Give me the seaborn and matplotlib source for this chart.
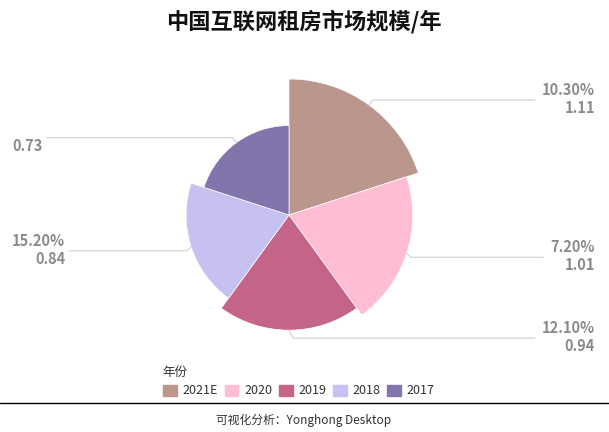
import numpy as np
import matplotlib
matplotlib.use("Agg")
import matplotlib.pyplot as plt
import seaborn as sns

years = ["2021E", "2020", "2019", "2018", "2017"]
values = [1.11, 1.01, 0.94, 0.84, 0.73]
pcts = ["10.30%", "7.20%", "12.10%", "15.20%", ""]
colors = ["#BA968C", "#FFBDD3", "#C36488", "#C6C1F0", "#8275AC"]

sns.set_theme(style="white")
plt.rcParams["font.family"] = ["Noto Sans CJK SC", "DejaVu Sans"]

W, H = 609, 432
fig = plt.figure(figsize=(W / 100, H / 100), dpi=100)

cx, cy = 289, 215
R = 140
rmax = max(values) * R / 136
ax = fig.add_axes([(cx - R) / W, (H - cy - R) / H, 2 * R / W, 2 * R / H], projection="polar")
ax.set_theta_zero_location("N")
ax.set_theta_direction(-1)
n = len(values)
width = 2 * np.pi / n
thetas = np.arange(n) * width
ax.bar(thetas, values, width=width, align="edge", color=colors, edgecolor="white", linewidth=0.5)
ax.set_ylim(0, rmax)
ax.set_axis_off()

fig.canvas.draw()
renderer = fig.canvas.get_renderer()
lab_color = "#8A8A8A"
fs = 10.5


def fx(x):
    return x / W


def fy(y):
    return 1 - y / H


for i, (y_, v, p) in enumerate(zip(years, values, pcts)):
    mid = thetas[i] + width / 2
    disp = ax.transData.transform((mid, v))
    px, py = disp[0], H - disp[1]
    s, c = np.sin(mid), np.cos(mid)
    if abs(s) < 1e-6:
        ly = py + 8
    else:
        ly = py - 5 if c > 0 else py + 4
    right = s > -1e-6
    vt = f"{v:.2f}"
    lines = [t for t in (p, vt) if t]
    tmp = [fig.text(0, 0, t, fontsize=fs, fontweight="bold") for t in lines]
    widths = [t.get_window_extent(renderer).width for t in tmp]
    for t in tmp:
        t.remove()
    bw = max(widths)
    if right:
        tx, ha = 595, "right"
        ex = tx - bw - 7
        xs = [px, px + 4, ex]
    else:
        tx, ha = 12 + bw, "right"
        ex = 12 + bw + 4
        xs = [px, px - 4, ex]
    ys = [py, ly, ly]
    fig.add_artist(plt.Line2D([fx(x) for x in xs], [fy(y) for y in ys],
                              color="#D0D0D0", lw=0.8, transform=fig.transFigure))
    if p:
        fig.text(fx(tx), fy(ly - 10), p, ha=ha, va="center", fontsize=fs,
                 fontweight="bold", color=lab_color)
    fig.text(fx(tx), fy(ly + 8), vt, ha=ha, va="center", fontsize=fs,
             fontweight="bold", color=lab_color)

fig.text(fx(304), fy(22), "中国互联网租房市场规模/年", ha="center", va="center",
         fontsize=16, fontweight="bold", color="#111111")

fig.text(fx(162), fy(372), "年份", ha="left", va="center", fontsize=9, color="#333333")
handles = [plt.Rectangle((0, 0), 1, 1, color=c) for c in colors]
leg = fig.legend(handles, years, loc="center left", bbox_to_anchor=(fx(163), fy(391)),
                 ncol=5, frameon=False, fontsize=9, handlelength=1.1, handleheight=1.0,
                 handletextpad=0.45, columnspacing=0.55, borderaxespad=0, borderpad=0)
for t in leg.get_texts():
    t.set_color("#333333")

fig.add_artist(plt.Line2D([0, 1], [fy(403), fy(403)], color="black", lw=1,
                          transform=fig.transFigure))
fig.text(fx(304), fy(420), "可视化分析：Yonghong Desktop", ha="center", va="center",
         fontsize=8.5, color="#333333")

fig.savefig("out.png", dpi=100)
